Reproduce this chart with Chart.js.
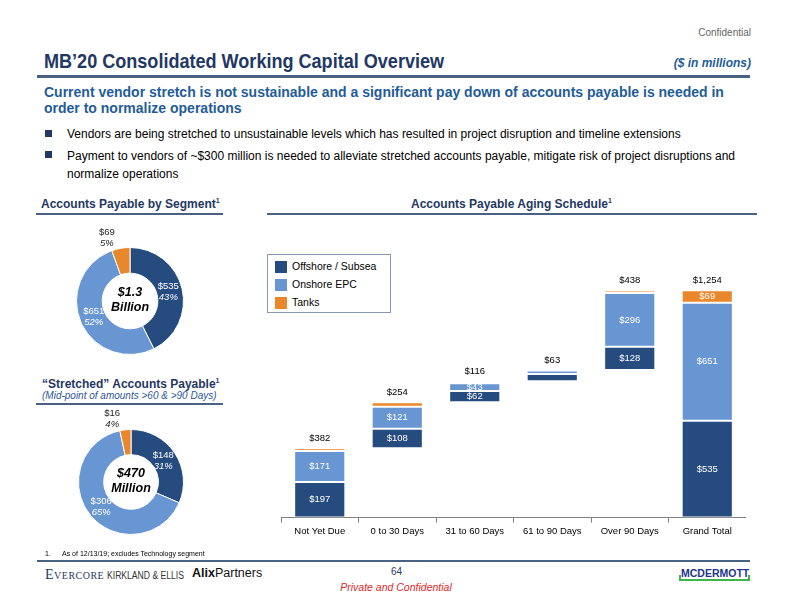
<!DOCTYPE html>
<html>
<head>
<meta charset="utf-8">
<script src="https://cdn.jsdelivr.net/npm/chart.js@4/dist/chart.umd.min.js"></script>
<style>
  html, body { margin: 0; padding: 0; background: #fff; }
  body { width: 792px; height: 612px; position: relative; overflow: hidden;
         font-family: "Liberation Sans", Arial, sans-serif; color: #000; }
  .abs { position: absolute; white-space: nowrap; }
  .navy { color: #1F3864; }
  .rule { position: absolute; height: 2px; background: #4A6184; }
  .bul { position: absolute; width: 7px; height: 7px; background: #1F3864; }
  canvas { position: absolute; }
  .leg-sw { position: absolute; width: 12px; height: 12px; }
</style>
</head>
<body>

<div class="abs" style="right:41px; top:27px; font-size:10px; color:#666;">Confidential</div>
<div class="abs navy" style="left:44px; top:49px; font-size:21px; font-weight:bold; transform:scaleX(0.86); transform-origin:left top;">MB’20 Consolidated Working Capital Overview</div>
<div class="abs" style="right:41px; top:56px; font-size:12px; font-weight:bold; font-style:italic; color:#1F5C99;">($ in millions)</div>
<div class="rule" style="left:37px; top:75px; width:713px; height:3px;"></div>

<div class="abs" style="left:44px; top:84px; font-size:14px; font-weight:bold; color:#1F5C99; line-height:16px;">Current vendor stretch is not sustainable and a significant pay down of accounts payable is needed in<br>order to normalize operations</div>

<div class="bul" style="left:45px; top:130px;"></div>
<div class="abs" style="left:67px; top:127px; font-size:12px;">Vendors are being stretched to unsustainable levels which has resulted in project disruption and timeline extensions</div>
<div class="bul" style="left:45px; top:151px;"></div>
<div class="abs" style="left:67px; top:147px; font-size:12px; line-height:18px;">Payment to vendors of ~$300 million is needed to alleviate stretched accounts payable, mitigate risk of project disruptions and<br>normalize operations</div>

<div class="abs navy" style="left:41px; top:197px; font-size:12px; font-weight:bold;">Accounts Payable by Segment<sup style="font-size:7px;">1</sup></div>
<div class="rule" style="left:36px; top:213px; width:187px; height:1.5px;"></div>
<div class="abs navy" style="left:411px; top:197px; font-size:12px; font-weight:bold;">Accounts Payable Aging Schedule<sup style="font-size:7px;">1</sup></div>
<div class="rule" style="left:267px; top:213px; width:490px; height:1.5px;"></div>

<div class="abs navy" style="left:42px; top:377px; font-size:12px; font-weight:bold;">“Stretched” Accounts Payable<sup style="font-size:7px;">1</sup></div>
<div class="abs" style="left:42px; top:390px; font-size:10px; font-style:italic; color:#2E5597;">(Mid-point of amounts &gt;60 &amp; &gt;90 Days)</div>
<div class="rule" style="left:36px; top:403px; width:187px; height:1.5px;"></div>

<canvas id="donutSeg" width="200" height="160" style="left:30px; top:221px; width:200px; height:160px;"></canvas>
<canvas id="donutStr" width="200" height="160" style="left:31px; top:402px; width:200px; height:160px;"></canvas>
<canvas id="aging" width="465" height="310" style="left:281px; top:230px; width:465px; height:310px;"></canvas>

<div id="legend" style="position:absolute; left:267px; top:254px; width:122px; height:57px; border:1px solid #8497B0; background:#fff;"></div>

<div class="abs" style="left:45px; top:550px; font-size:7px;">1.</div>
<div class="abs" style="left:62px; top:550px; font-size:7px;">As of 12/13/19; excludes Technology segment</div>
<div class="rule" style="left:37px; top:560px; width:713px; height:1.5px;"></div>

<div class="abs" style="left:45px; top:567px; font-family:'Liberation Serif',serif; font-size:14px; color:#1F3864; font-variant:small-caps; letter-spacing:0.5px;">Evercore</div>
<div class="abs" style="left:107px; top:570px; font-size:10px; color:#333; transform:scaleX(0.86); transform-origin:left top;">KIRKLAND &amp; ELLIS</div>
<div class="abs" style="left:192px; top:566px; font-size:12.5px; color:#111;"><b>Alix</b>Partners</div>
<div class="abs navy" style="left:391px; top:566px; font-size:10px;">64</div>
<div class="abs" style="left:0; width:792px; text-align:center; top:581px; font-size:10.5px; font-style:italic; color:#E0262B;">Private and Confidential</div>
<div class="abs" style="left:681px; top:567px; font-size:10.5px; font-weight:bold; color:#23358C;">MCDERMOTT</div>
<div style="position:absolute; left:679px; top:575px; width:67px; height:4px; border:2px solid #3DB54A; border-top:none;"></div>

<script>
// categories and series (in $ millions)
const CATEGORIES = ["Not Yet Due", "0 to 30 Days", "31 to 60 Days", "61 to 90 Days", "Over 90 Days", "Grand Total"];
const SERIES_NAMES = ["Offshore / Subsea", "Onshore EPC", "Tanks"];
const OFFSHORE = [197, 108, 62, 40, 128, 535];
const ONSHORE  = [171, 121, 43, 20, 296, 651];
const TANKS    = [14, 25, 11, 3, 14, 69];
const TOTALS   = [382, 254, 116, 63, 438, 1254];

const SEG_VALUES = [535, 651, 69];
const SEG_PCT    = [43, 52, 5];
const STR_VALUES = [148, 306, 16];
const STR_PCT    = [31, 65, 4];

const COLORS = ["#264B7F", "#6896D2", "#E8872B"];
const FONT = "'Liberation Sans', Arial, sans-serif";

/** Legend (HTML) */
(function buildLegend(){
  const box = document.getElementById("legend");
  SERIES_NAMES.forEach((name, i) => {
    const sw = document.createElement("div");
    sw.className = "leg-sw";
    sw.style.left = "7px";
    sw.style.top = (6 + i * 18) + "px";
    sw.style.background = COLORS[i];
    box.appendChild(sw);
    const t = document.createElement("div");
    t.className = "abs";
    t.style.left = "24px";
    t.style.top = (5 + i * 18) + "px";
    t.style.fontSize = "10.5px";
    t.textContent = name;
    box.appendChild(t);
  });
})();

const fmt = v => "$" + Number(v).toLocaleString("en-US");

/** Waterfall starting points: running sum of previous totals, grand total from zero */
const starts = TOTALS.map((t, i) => {
  if (i === TOTALS.length - 1) return 0;
  return TOTALS.slice(0, i).reduce((a, b) => a + b, 0);
});

function floating(series, prevSeries){
  return series.map((v, i) => {
    const lo = starts[i] + prevSeries.reduce((a, s) => a + s[i], 0);
    return [lo, lo + v];
  });
}

const barLabels = {
  id: "barLabels",
  afterDatasetsDraw(chart){
    const ctx = chart.ctx;
    ctx.save();
    ctx.textAlign = "center";
    ctx.textBaseline = "middle";
    chart.data.datasets.forEach((ds, di) => {
      const meta = chart.getDatasetMeta(di);
      meta.data.forEach((el, i) => {
        const v = ds.raw[i];
        if (v < 43) return;
        ctx.fillStyle = "#fff";
        ctx.font = "9.5px " + FONT;
        ctx.fillText(fmt(v), el.x, (el.y + el.base) / 2);
      });
    });
    // totals above the top segment
    const top = chart.getDatasetMeta(2);
    top.data.forEach((el, i) => {
      ctx.fillStyle = "#000";
      ctx.font = "9.5px " + FONT;
      ctx.fillText(fmt(TOTALS[i]), el.x, Math.min(el.y, el.base) - 10);
    });
    ctx.restore();
  }
};

new Chart(document.getElementById("aging"), {
  type: "bar",
  data: {
    labels: CATEGORIES,
    datasets: [
      { label: SERIES_NAMES[0], raw: OFFSHORE, data: floating(OFFSHORE, []), backgroundColor: COLORS[0] },
      { label: SERIES_NAMES[1], raw: ONSHORE, data: floating(ONSHORE, [OFFSHORE]), backgroundColor: COLORS[1] },
      { label: SERIES_NAMES[2], raw: TANKS, data: floating(TANKS, [OFFSHORE, ONSHORE]), backgroundColor: COLORS[2] }
    ].map(d => Object.assign(d, {
      grouped: false, borderColor: "#ffffff", borderWidth: 1, borderSkipped: false,
      barPercentage: 0.66, categoryPercentage: 1
    }))
  },
  options: {
    responsive: false,
    animation: false,
    layout: { padding: 0 },
    plugins: { legend: { display: false }, tooltip: { enabled: false } },
    scales: {
      x: {
        grid: { display: true, drawOnChartArea: false, offset: true, tickLength: 5, color: "#808080" },
        border: { color: "#808080", width: 1 },
        ticks: { color: "#000", font: { family: FONT, size: 9.5 }, padding: 3 }
      },
      y: { display: false, min: 0, max: 1587 }
    }
  },
  plugins: [barLabels]
});

const donutLabels = {
  id: "donutLabels",
  afterDatasetsDraw(chart){
    const ctx = chart.ctx;
    const opts = chart.options.plugins.donutLabels;
    const ds = chart.data.datasets[0];
    const arcs = chart.getDatasetMeta(0).data;
    ctx.save();
    ctx.textAlign = "center";
    ctx.textBaseline = "middle";
    arcs.forEach((a, i) => {
      const mid = (a.startAngle + a.endAngle) / 2;
      const small = opts.pct[i] < 10;
      const r = small ? a.outerRadius + 11 : a.innerRadius + (a.outerRadius - a.innerRadius) * 0.45;
      const x = a.x + Math.cos(mid) * r + (small ? -12 : 0);
      const y = a.y + Math.sin(mid) * r;
      ctx.fillStyle = small ? "#222" : "#fff";
      ctx.font = "9.5px " + FONT;
      ctx.fillText(fmt(ds.data[i]), x, y - 5.5);
      ctx.font = "italic 9.5px " + FONT;
      ctx.fillText(opts.pct[i] + "%", x, y + 5.5);
    });
    const c = arcs[0];
    ctx.fillStyle = "#000";
    ctx.font = "bold italic 12.5px " + FONT;
    ctx.fillText(opts.center[0], c.x, c.y - 8);
    ctx.fillText(opts.center[1], c.x, c.y + 7);
    ctx.restore();
  }
};

function donut(id, values, pct, center, pad){
  return new Chart(document.getElementById(id), {
    type: "doughnut",
    data: {
      labels: SERIES_NAMES,
      datasets: [{ data: values, backgroundColor: COLORS, borderColor: "#fff", borderWidth: 1 }]
    },
    options: {
      responsive: false,
      animation: false,
      cutout: "52%",
      layout: { padding: pad },
      plugins: {
        legend: { display: false },
        tooltip: { enabled: false },
        donutLabels: { pct, center }
      }
    },
    plugins: [donutLabels]
  });
}

donut("donutSeg", SEG_VALUES, SEG_PCT, ["$1.3", "Billion"], { top: 26, bottom: 26, left: 46, right: 46 });
donut("donutStr", STR_VALUES, STR_PCT, ["$470", "Million"], { top: 27, bottom: 27, left: 47, right: 47 });
</script>
</body>
</html>
